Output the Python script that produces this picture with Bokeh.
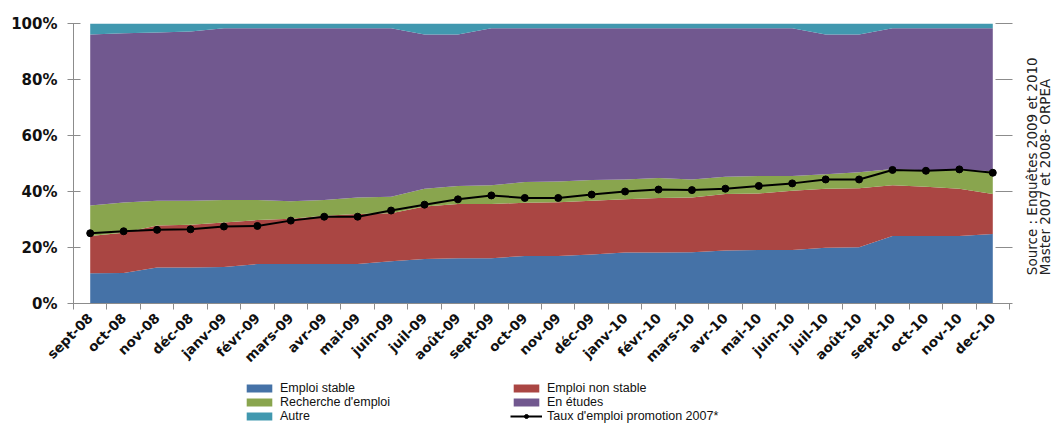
import math
from bokeh.plotting import figure
from bokeh.layouts import row, column
from bokeh.core.properties import value
from bokeh.models import (Range1d, LinearAxis, FixedTicker, Legend, LegendItem,
                          PrintfTickFormatter, ColumnDataSource)
from bokeh.embed import file_html
from bokeh.resources import INLINE

# ---------------- data ----------------
categories = ["sept-08", "oct-08", "nov-08", "déc-08", "janv-09", "févr-09", "mars-09",
              "avr-09", "mai-09", "juin-09", "juil-09", "août-09", "sept-09", "oct-09",
              "nov-09", "déc-09", "janv-10", "févr-10", "mars-10", "avr-10", "mai-10",
              "juin-10", "juil-10", "août-10", "sept-10", "oct-10", "nov-10", "dec-10"]

emploi_stable = [10.8, 10.9, 12.9, 12.9, 13.0, 14.1, 14.1, 14.1, 14.1, 15.1, 15.9, 16.2, 16.2, 17.0,
                 17.0, 17.5, 18.2, 18.2, 18.3, 18.9, 19.1, 19.1, 19.9, 20.1, 24.1, 24.1, 24.1, 24.8]
emploi_non_stable = [13.3, 14.4, 15.0, 15.2, 15.9, 15.7, 16.2, 17.2, 17.9, 17.1, 18.7, 19.3, 19.3, 19.0,
                     19.2, 19.2, 19.0, 19.5, 19.6, 20.2, 20.2, 21.2, 21.1, 21.1, 18.1, 17.6, 16.9, 14.3]
recherche_emploi = [10.9, 10.8, 8.8, 8.6, 8.1, 7.2, 6.2, 5.7, 5.9, 5.9, 6.4, 6.5, 6.7, 7.4,
                    7.4, 7.4, 7.1, 7.1, 6.4, 6.2, 6.2, 5.2, 5.2, 5.7, 5.8, 5.9, 6.8, 8.1]
en_etudes = [61.1, 60.4, 60.1, 60.4, 61.3, 61.3, 61.8, 61.3, 60.4, 60.2, 55.1, 54.1, 56.1, 54.9,
             54.7, 54.2, 54.0, 53.5, 54.0, 53.0, 52.8, 52.8, 49.9, 49.2, 50.3, 50.7, 50.5, 51.1]
autre = [3.9, 3.5, 3.2, 2.9, 1.7, 1.7, 1.7, 1.7, 1.7, 1.7, 3.9, 3.9, 1.7, 1.7,
         1.7, 1.7, 1.7, 1.7, 1.7, 1.7, 1.7, 1.7, 3.9, 3.9, 1.7, 1.7, 1.7, 1.7]
taux_emploi = [25.1, 25.8, 26.3, 26.5, 27.5, 27.7, 29.6, 31.0, 31.0, 33.2, 35.3, 37.2, 38.6, 37.7,
               37.7, 38.9, 40.0, 40.7, 40.5, 41.0, 42.0, 42.9, 44.3, 44.3, 47.7, 47.4, 47.9, 46.7]

y_ticks = [0, 20, 40, 60, 80, 100]

series_names = ["Emploi stable", "Emploi non stable", "Recherche d'emploi", "En études", "Autre"]
line_name = "Taux d'emploi promotion 2007*"
source_lines = ["Source : Enquêtes 2009 et 2010", "Master 2007 et  2008- ORPEA"]

colors = ["#4572A7", "#AA4643", "#89A54E", "#71588F", "#4198AF"]

# ---------------- main figure ----------------
H1 = 375
W1 = 1013
n = len(categories)
xs = [i + 0.5 for i in range(n)]
src = ColumnDataSource(dict(x=xs, stable=emploi_stable, nonstable=emploi_non_stable,
                            recherche=recherche_emploi, etudes=en_etudes, autre=autre,
                            taux=taux_emploi))
stackers = ["stable", "nonstable", "recherche", "etudes", "autre"]

p = figure(width=W1, height=H1, x_range=Range1d(0, n), y_range=Range1d(0, 100),
           output_backend="svg", toolbar_location=None,
           x_axis_type=None, y_axis_type=None,
           min_border_left=73, min_border_right=4, min_border_top=23, min_border_bottom=H1 - 303)
p.outline_line_color = None

p.varea_stack(stackers=stackers, x="x", fill_color=colors, source=src)
p.line("x", "taux", source=src, line_color="black", line_width=2)
p.scatter("x", "taux", source=src, size=7, color="black")

axis_gray = "#8c8c8c"
label_font = "DejaVu Sans"

xaxis = LinearAxis(ticker=FixedTicker(ticks=xs, minor_ticks=list(range(n + 1))),
                   major_label_overrides={x: c for x, c in zip(xs, categories)},
                   major_label_orientation=math.pi / 4,
                   major_tick_line_color=None, major_tick_in=0, major_tick_out=6,
                   minor_tick_line_color=axis_gray, minor_tick_in=0, minor_tick_out=6,
                   axis_line_color=axis_gray,
                   major_label_standoff=6,
                   major_label_text_font=label_font, major_label_text_font_style="bold",
                   major_label_text_font_size="13.5px", major_label_text_color="#111111")
p.add_layout(xaxis, "below")

yaxis = LinearAxis(ticker=FixedTicker(ticks=y_ticks, minor_ticks=[]),
                   formatter=PrintfTickFormatter(format="%d%%"),
                   major_tick_in=7, major_tick_out=6, major_tick_line_color=axis_gray,
                   minor_tick_line_color=None, axis_line_color=axis_gray,
                   major_label_standoff=10,
                   major_label_text_font=label_font, major_label_text_font_style="bold",
                   major_label_text_font_size="15px", major_label_text_color="#111111")
p.add_layout(yaxis, "left")

raxis = LinearAxis(ticker=FixedTicker(ticks=y_ticks, minor_ticks=[]),
                   major_label_overrides={t: "" for t in y_ticks},
                   major_label_text_font_size="0px",
                   major_tick_in=14, major_tick_out=3, major_tick_line_color=axis_gray,
                   minor_tick_line_color=None, axis_line_color=None)
p.add_layout(raxis, "right")

# ---------------- side panel with the source note ----------------
W2 = 1051 - W1
p2 = figure(width=W2, height=H1, x_range=Range1d(0, W2), y_range=Range1d(0, H1),
            output_backend="svg", toolbar_location=None,
            x_axis_type=None, y_axis_type=None,
            min_border_left=0, min_border_right=0, min_border_top=0, min_border_bottom=0)
p2.outline_line_color = None
p2.text(x=[18, 31], y=[38, 38], text=source_lines, angle=math.pi / 2,
        text_align="left", text_baseline="middle", text_font=value("DejaVu Sans"),
        text_font_size=value("13.5px"), text_color="#222222")

# ---------------- legend panel (keys use the same data, kept outside its view) ----------------
H3 = 433 - H1
p3 = figure(width=1051, height=H3, x_range=Range1d(1000, 2051), y_range=Range1d(0, H3),
            output_backend="svg", toolbar_location=None,
            x_axis_type=None, y_axis_type=None,
            min_border_left=0, min_border_right=0, min_border_top=0, min_border_bottom=0)
p3.outline_line_color = None
keys = p3.varea_stack(stackers=stackers, x="x", fill_color=colors, source=src)
k_line = p3.line("x", "taux", source=src, line_color="black", line_width=2)
k_pts = p3.scatter("x", "taux", source=src, size=6, color="black")

key_items = [LegendItem(label=name, renderers=[r]) for name, r in zip(series_names, keys)]
key_items.append(LegendItem(label=line_name, renderers=[k_line, k_pts]))
# column-major fill: first column stable / recherche / autre
order = [0, 2, 4, 1, 3, 5]
legend = Legend(items=[key_items[i] for i in order], ncols=2, location=(243, 10),
                border_line_color=None, background_fill_alpha=0,
                padding=0, margin=0, spacing=0, glyph_width=32, glyph_height=10,
                label_standoff=5, label_width=230, label_height=12,
                label_text_font="Liberation Sans", label_text_font_size="12.5px",
                label_text_color="#111111")
p3.add_layout(legend, "center")

layout = column(row(p, p2, spacing=0), p3, spacing=0)
open("out.html", "w").write(file_html(layout, INLINE))
